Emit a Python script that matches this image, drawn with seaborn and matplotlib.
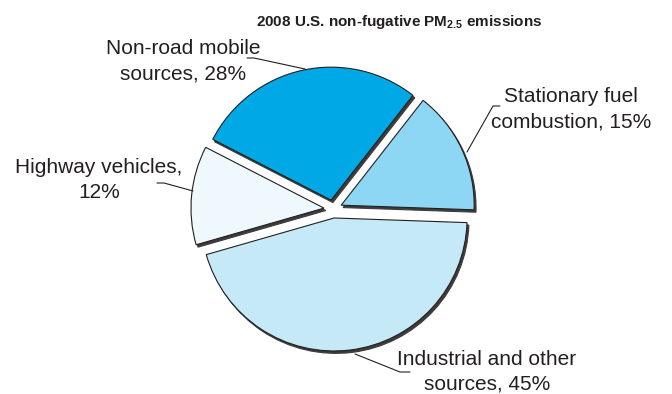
import matplotlib
matplotlib.use("Agg")
import matplotlib.pyplot as plt
from matplotlib.lines import Line2D
import seaborn as sns

# ---- data ----
categories = ["Stationary fuel combustion", "Non-road mobile sources",
              "Highway vehicles", "Industrial and other sources"]
shares = [15, 28, 12, 45]
label_lines = [["Stationary fuel", "combustion, 15%"],
               ["Non-road mobile", "sources, 28%"],
               ["Highway vehicles,", "12%"],
               ["Industrial and other", "sources, 45%"]]
title_text = "2008 U.S. non-fugative PM$_{\\mathregular{2.5}}$ emissions"

# ---- styles / layout ----
colors = ["#8dd7f5", "#00a8e6", "#eef8fd", "#c6e9f8"]
W, H = 672, 394
R = 133.0
CX, CY = 333.0, 209.0
label_pos = [(571, 102), (183, 54), (99, 173), (487, 365)]
line_gap = 25
leaders = [
    [(500, 106), (493, 106), (467, 152)],
    [(247, 58), (254, 58), (305, 69)],
    [(157, 183), (164, 183), (193, 191)],
    [(355, 354), (400, 372), (410, 372)],
]

sns.set_theme(style="white")
plt.rcParams['font.family'] = ['Liberation Sans', 'DejaVu Sans']
plt.rcParams['mathtext.fontset'] = 'custom'
plt.rcParams['mathtext.rm'] = 'Liberation Sans'
plt.rcParams['mathtext.bf'] = 'Liberation Sans:bold'

fig = plt.figure(figsize=(W / 100, H / 100), dpi=100)
ax = fig.add_axes([0, 0, 1, 1])
ax.pie(shares, colors=colors, startangle=-2, counterclock=True,
       explode=[0.068] * len(shares), radius=1,
       wedgeprops=dict(edgecolor="#231f20", linewidth=0.8),
       shadow={'ox': 0.010, 'oy': -0.013, 'facecolor': '#3c3c3c',
               'edgecolor': '#3c3c3c', 'alpha': 1})
ax.set_xlim(-CX / R, (W - CX) / R)
ax.set_ylim(-(H - CY) / R, CY / R)
ax.set_axis_off()


def fpos(x, y):
    return (x / W, 1 - y / H)


txt_color = "#231f20"
for lines, (x, y) in zip(label_lines, label_pos):
    for i, ln in enumerate(lines):
        fig.text(*fpos(x, y + i * line_gap), ln, ha="center", va="baseline",
                 fontsize=15, color=txt_color)

for pts in leaders:
    xs = [p[0] / W for p in pts]
    ys = [1 - p[1] / H for p in pts]
    fig.add_artist(Line2D(xs, ys, transform=fig.transFigure,
                          color=txt_color, linewidth=0.8))

fig.text(*fpos(399, 26), title_text, ha="center", va="baseline",
         fontsize=11, fontweight="bold", color=txt_color)

fig.savefig("out.png", dpi=100, facecolor="white")
